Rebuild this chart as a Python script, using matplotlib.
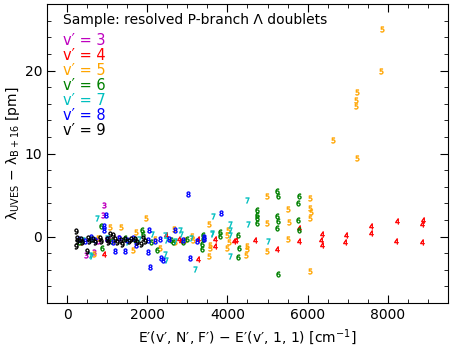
import numpy as np
import matplotlib
matplotlib.use('Agg')
import matplotlib.pyplot as plt
from matplotlib.ticker import MultipleLocator

# 各振动能级 v' 的数据：x = E'(v',N',F') - E'(v',1,1) [cm^-1]，y = 波长差 [pm]
x3 = [475, 683, 900, 915, 1050, 1300, 760]
y3 = [-2.24, -1.92, 2.6, 3.76, -0.4, -0.2, -0.5]

x4 = [933, 2458, 2790, 2833, 3258, 3275, 3700, 3700, 4165, 4225, 4683, 5232, 5775,
      5790, 6358, 6325, 6365, 6965, 6940, 7583, 7583, 8233, 8208, 8883, 8858, 8865, 1000]
y4 = [-2.12, 0.24, -0.24, -0.53, -0.24, -2.72, -1.08, -0.24, -0.53, -0.44, -0.44, -1.56, 1.08,
      -0.48, 0.36, -0.36, -0.96, 0.24, -0.65, 1.27, 0.48, 1.87, -0.53, 1.96, 1.48, -0.6, -0.3]

x5 = [665, 1075, 1350, 1725, 1958, 1640, 2325, 2658, 3125, 3140, 3533, 3558, 3558, 3533,
      3990, 4015, 4040, 3990, 4490, 4490, 4458, 4983, 4990, 4975, 5500, 5533, 5500, 6058,
      6058, 6083, 6050, 6050, 6640, 7233, 7216, 7216, 7233, 7825, 7850, 350, 780, 1150,
      2200, 2700, 2950]
y5 = [-2.16, 1.16, 1.16, 0.55, 2.24, -1.64, -1.37, 0.96, 0.04, -0.44, 1.56, -0.96, -1.44, -2.36,
      0.16, 0.84, -0.65, -1.44, -1.13, -1.52, -2.24, 1.63, 4.84, -1.76, 3.36, 1.75, -0.29, 4.6,
      3.4, 2.9, 2.2, -4.1, 11.6, 17.4, 16.4, 15.7, 9.5, 19.9, 25.0, -0.6, -0.2, -0.5,
      -0.3, -0.6, -0.4]

x6 = [850, 875, 1865, 1890, 2250, 2640, 2600, 3365, 3390, 3390, 3365, 3808, 3808, 4258,
      4290, 4258, 4750, 4750, 4750, 4750, 5225, 5265, 5225, 5250, 5225, 5783, 5750, 5750,
      5790, 5265, 300, 600, 1100, 1450, 1700, 2100, 3000, 2900]
y6 = [1.24, -1.44, 0.76, 0.36, -1.64, -0.65, -0.4, -0.84, 0.16, -0.32, -1.52, 0.55, 0.07, 0.24,
      -1.37, -2.52, 3.24, 2.64, 2.24, 1.63, 5.44, 4.87, 2.44, 1.87, 1.03, 4.87, 4.03, 2.04,
      0.76, -4.56, -0.6, -0.3, -0.5, -0.2, -0.4, -0.7, -0.3, -0.6]

x7 = [583, 600, 750, 2117, 2450, 2475, 2450, 2458, 2808, 2833, 3183, 3608, 3625, 3640,
      4058, 4075, 4058, 4075, 4490, 4515, 5000, 400, 1000, 1500, 1800, 2700, 3100]
y7 = [-2.24, -2.36, 2.24, 0.36, 0.24, -0.36, -2.16, -2.84, 0.84, 0.36, -3.96, 0.48, 0.36, 2.44,
      1.56, 0.76, 0.16, -2.36, 4.44, 1.48, -0.53, -0.4, -0.2, -0.6, -0.3, -0.5, -0.2]

x8 = [915, 933, 975, 1200, 1450, 1708, 2015, 2015, 2033, 2058, 2308, 2350, 2392, 2700,
      3015, 3058, 3408, 3850, 300, 450, 600, 700, 1000, 1150, 1300, 1500, 1650, 2200,
      2550, 2900, 3250, 3420]
y8 = [1.24, 0.76, 2.56, -1.76, -1.76, -1.04, -0.44, -1.85, 0.76, -3.72, -0.24, -2.64, -2.84, 0.84,
      5.16, -2.64, -0.05, 2.88, -0.3, -0.5, -0.1, -0.4, -0.3, -0.6, -0.2, -0.4, -0.2, -0.5,
      -0.3, -0.4, -0.5, -0.3]

x9 = [225, 225, 500, 1075, 1140, 1350, 1375, 1600, 1850, 250, 260, 350, 380, 520, 540,
      650, 700, 820, 850, 1000, 1020, 1200, 1250, 1450, 1550, 1700, 1750, 1900, 1950]
y9 = [0.67, -1.16, -1.76, 0.36, 0.24, -0.36, -0.84, -0.24, -0.84, -0.2, -0.5, -0.3, -0.6, -0.2, -0.5,
      -0.3, -0.6, -0.2, -0.5, -0.3, -0.6, -0.3, -0.6, -0.3, -0.5, -0.3, -0.6, -0.2, -0.5]

series = [(3, x3, y3, 'm'), (4, x4, y4, 'r'), (5, x5, y5, 'orange'), (6, x6, y6, 'g'),
          (7, x7, y7, 'c'), (8, x8, y8, 'b'), (9, x9, y9, 'k')]

fig = plt.figure(figsize=(4.52, 3.47), dpi=100)
ax = fig.add_axes([0.104, 0.127, 0.887, 0.861])

for v, xs, ys, col in series:
    ax.plot(xs, ys, ls='none', marker='$%d$' % v, ms=4, color=col, mew=0.4)

ax.set_xlim(-500, 9500)
ax.set_ylim(-8, 28)
ax.xaxis.set_major_locator(MultipleLocator(2000))
ax.xaxis.set_minor_locator(MultipleLocator(500))
ax.yaxis.set_major_locator(MultipleLocator(10))
ax.yaxis.set_minor_locator(MultipleLocator(2))
ax.tick_params(which='both', direction='in', top=True, right=True, labelsize=10)
ax.tick_params(which='major', length=6)
ax.tick_params(which='minor', length=3)

ax.set_xlabel("E′(v′, N′, F′) − E′(v′, 1, 1) [cm$^{-1}$]", fontsize=10)
ax.set_ylabel("λ$_\\mathrm{UVES}$ − λ$_\\mathrm{B+16}$ [pm]", fontsize=10, labelpad=2)

# 图例：彩色文字
ax.text(0.041, 0.946, "Sample: resolved P-branch Λ doublets", transform=ax.transAxes,
        fontsize=10, va='center', ha='left')
for i, (v, xs, ys, col) in enumerate(series):
    ax.text(0.041, 0.880 - i * 0.0502, "v′ = %d" % v, transform=ax.transAxes,
            fontsize=10.5, va='center', ha='left', color=col)

fig.savefig('out.png', dpi=100)
